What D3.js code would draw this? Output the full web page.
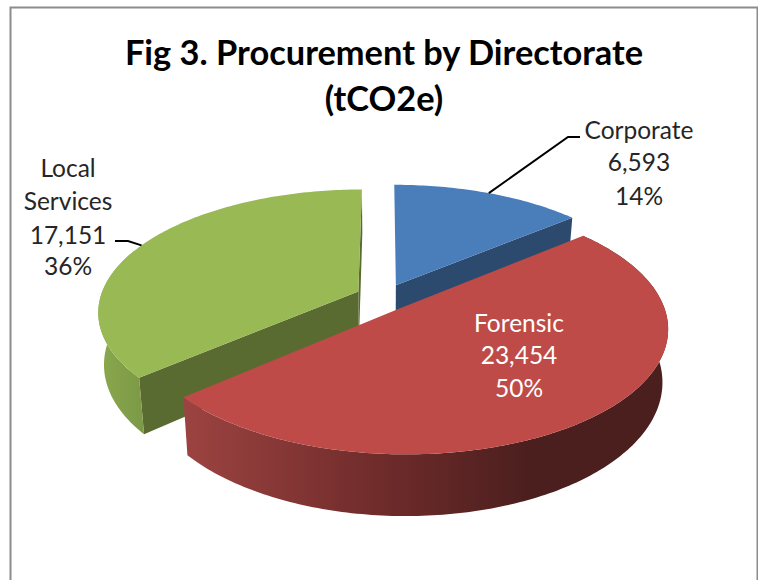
<!DOCTYPE html>
<html>
<head>
<meta charset="utf-8">
<script src="https://cdn.jsdelivr.net/npm/d3@7"></script>
<style>
  html, body { margin: 0; padding: 0; background: #fff; }
  svg { display: block; }
  text { font-family: Lato, "Open Sans", sans-serif; }
</style>
</head>
<body>
<svg id="chart" width="758" height="580"></svg>
<script>
// chart data
var directorates = ["Corporate", "Forensic", "Local Services"];
var emissions = [6593, 23454, 17151];
var titleLines = ["Fig 3. Procurement by Directorate", "(tCO2e)"];
var topColors = ["#4a7ebb", "#be4b48", "#98b954"];
var cutColors = ["#2c4a6e", "#702c2b", "#5a6b31"];

var width = 758, height = 580;
var svg = d3.select("#chart");

// frame of the chart area, runs off the bottom of the page
svg.append("path")
   .attr("d", "M10.5,580V7.5H757.5V580")
   .attr("fill", "none")
   .attr("stroke", "#8c8c8c")
   .attr("stroke-width", 2);

// title
svg.selectAll("text.title")
   .data(titleLines)
   .enter()
   .append("text")
     .attr("class", "title")
     .attr("x", 384)
     .attr("y", function(d, i){ return 65 + i * 46; })
     .attr("text-anchor", "middle")
     .style("font-size", "34.4px")
     .style("font-weight", "bold")
     .attr("fill", "#000")
     .text(function(d){ return d; });

// pie layout, clockwise from twelve o'clock like the original
var pie = d3.pie().sort(null).value(function(d){ return d; });
var slices = pie(emissions);
var total = d3.sum(emissions);

// tilted disc with a bit of perspective, u and v are in radius units
var centerX = 384, centerY = 297;
var radiusX = 258, radiusY = 120;
var perspective = 0.16;
var explode = 0.11;
var depth = 51;
var bottomShrink = 0.98;

function project(u, v, lower) {
  var s = 1 / (1 - perspective * v);
  var x = centerX + radiusX * u * s;
  var y = centerY + radiusY * v * s;
  if (lower) {
    x = centerX + (x - centerX) * bottomShrink;
    y = y + depth * s;
  }
  return [x, y];
}

// offset of a slice from the pie centre
function sliceOffset(d) {
  var mid = (d.startAngle + d.endAngle) / 2;
  return [explode * Math.sin(mid), -explode * Math.cos(mid)];
}

function apex(d, lower) {
  var o = sliceOffset(d);
  return project(o[0], o[1], lower);
}

function rimPoint(d, angle, lower) {
  var o = sliceOffset(d);
  return project(o[0] + Math.sin(angle), o[1] - Math.cos(angle), lower);
}

function rim(d, from, to, lower) {
  var n = Math.ceil(Math.abs(to - from) * 60);
  return d3.range(n + 1).map(function(i){
    return rimPoint(d, from + (to - from) * i / n, lower);
  });
}

var line = d3.line();

// side shading
var defs = svg.append("defs");

function sideGradient(id, x1, x2, stops) {
  var grad = defs.append("linearGradient")
      .attr("id", id)
      .attr("gradientUnits", "userSpaceOnUse")
      .attr("x1", x1).attr("x2", x2)
      .attr("y1", 0).attr("y2", 0);
  stops.forEach(function(st){
    grad.append("stop").attr("offset", st[0]).attr("stop-color", st[1]);
  });
}

sideGradient("side-red", 185, 530, [[0, "#9c4341"], [0.55, "#702c2b"], [1, "#4b1f1e"]]);
sideGradient("side-green", 100, 145, [[0, "#8aa84d"], [1, "#7b9845"]]);

var blue = slices[0], red = slices[1], green = slices[2];

// flat face left by pulling a slice out, at the given rim angle
function cutFace(d, angle) {
  return line([apex(d), rimPoint(d, angle), rimPoint(d, angle, true), apex(d, true)]) + "Z";
}

// outer wall of a slice between two rim angles
function wall(d, from, to) {
  return line(rim(d, from, to).concat(rim(d, to, from, true))) + "Z";
}

svg.append("path").attr("d", cutFace(blue, blue.endAngle)).attr("fill", cutColors[0]);
svg.append("path").attr("d", cutFace(green, green.endAngle)).attr("fill", cutColors[2]);
svg.append("path").attr("d", cutFace(green, green.startAngle)).attr("fill", cutColors[2]);
svg.append("path").attr("d", wall(green, green.startAngle, Math.PI * 1.62)).attr("fill", "url(#side-green)");
svg.append("path").attr("d", wall(red, red.startAngle, red.endAngle)).attr("fill", "url(#side-red)");

// top faces
svg.selectAll("path.top")
   .data(slices)
   .enter()
   .append("path")
     .attr("class", "top")
     .attr("d", function(d){
       return line([apex(d)].concat(rim(d, d.startAngle, d.endAngle))) + "Z";
     })
     .attr("fill", function(d, i){ return topColors[i]; });

// leader lines start on the rim in the middle of the slice
function midRim(d) {
  return rimPoint(d, (d.startAngle + d.endAngle) / 2);
}

var leaders = [
  [midRim(blue), [568, 137], [580, 137]],
  [midRim(green), [128, 241], [115, 241]]
];

svg.selectAll("path.leader")
   .data(leaders)
   .enter()
   .append("path")
     .attr("class", "leader")
     .attr("d", line)
     .attr("fill", "none")
     .attr("stroke", "#000")
     .attr("stroke-width", 2);

// data labels: name(s), value, share
var fmtValue = d3.format(",");
var fmtShare = d3.format(".0%");
var labelPlace = [
  {x: 639, y: [139, 171, 205], fill: "#262626"},
  {x: 519, y: [332, 364, 397], fill: "#fff"},
  {x: 68, y: [177, 210, 244, 275], fill: "#262626"}
];

slices.forEach(function(d, i){
  var rows = directorates[i].split(" ")
      .concat([fmtValue(d.value), fmtShare(d.value / total)]);
  svg.selectAll("text.label-" + i)
     .data(rows)
     .enter()
     .append("text")
       .attr("class", "label-" + i)
       .attr("x", labelPlace[i].x)
       .attr("y", function(t, j){ return labelPlace[i].y[j]; })
       .attr("text-anchor", "middle")
       .attr("fill", labelPlace[i].fill)
       .style("font-size", "24.5px")
       .text(function(t){ return t; });
});
</script>
</body>
</html>
